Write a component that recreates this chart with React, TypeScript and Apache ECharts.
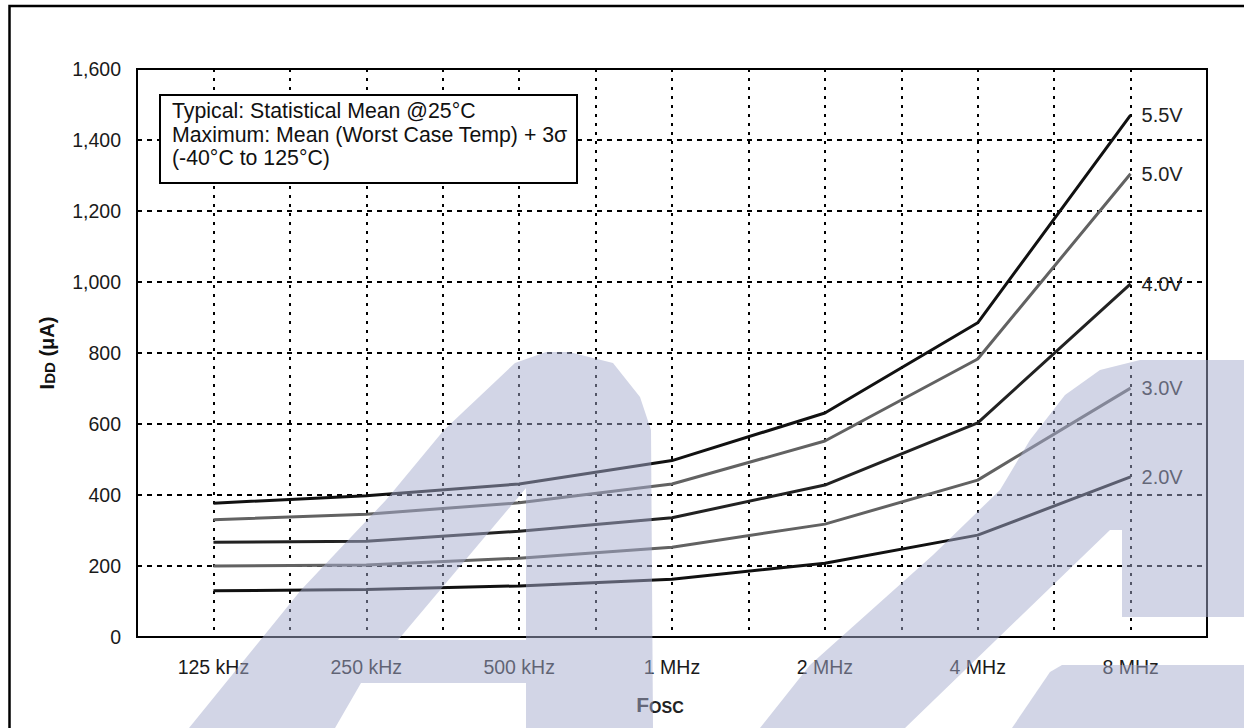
import React, { useEffect, useRef } from "react";
import * as echarts from "echarts";

const categories = ["125 kHz", "250 kHz", "500 kHz", "1 MHz", "2 MHz", "4 MHz", "8 MHz"];
const seriesNames = ["5.5V", "5.0V", "4.0V", "3.0V", "2.0V"];
const v55 = [377, 398, 431, 497, 631, 885, 1470];
const v50 = [330, 346, 378, 431, 552, 783, 1305];
const v40 = [267, 270, 298, 336, 428, 603, 995];
const v30 = [200, 203, 222, 253, 318, 442, 701];
const v20 = [130, 134, 144, 163, 208, 287, 451];
const seriesValues = [v55, v50, v40, v30, v20];
const seriesColors = ["#111111", "#626262", "#222222", "#626262", "#111111"];
const yMin = 0;
const yMax = 1600;
const yStep = 200;
const noteLines = [
  "Typical: Statistical Mean @25°C",
  "Maximum: Mean (Worst Case Temp) + 3σ",
  "(-40°C to 125°C)",
];

const FONT = "'Liberation Sans', Arial, sans-serif";
const WM = "rgba(165,172,205,0.5)";

// watermark shapes (decorative background logo), outer outline + holes (reverse winding)
const wm1Outer = [
  [189, 728], [301, 590], [386, 500], [444, 430], [479, 397], [515, 363], [546, 352], [569, 352],
  [613, 363], [640, 397], [651, 430], [653, 728], [526, 728], [526, 683], [361, 683], [335, 728],
];
const wm1Hole = [[526, 488], [398, 640], [526, 640]];
const wm2Outer = [
  [760, 728], [810, 665], [933, 555], [1000, 490], [1030, 440], [1065, 395], [1100, 370], [1140, 360],
  [1250, 360], [1250, 617], [1122, 617], [1122, 530], [1110, 530], [905, 728],
];
const wm3Outer = [[1012, 728], [1050, 672], [1062, 665], [1250, 665], [1250, 728]];

const toPath = (rings: number[][][]) =>
  rings.map((r) => "M" + r.map((p) => p[0] + "," + p[1]).join("L") + "Z").join(" ");

let registered = false;
function registerShapes() {
  if (registered) return;
  registered = true;
  echarts.graphic.registerShape("wm1", echarts.graphic.extendPath(toPath([wm1Outer, wm1Hole]), {}));
  echarts.graphic.registerShape("wm2", echarts.graphic.extendPath(toPath([wm2Outer]), {}));
  echarts.graphic.registerShape("wm3", echarts.graphic.extendPath(toPath([wm3Outer]), {}));
}

export default function App() {
  const ref = useRef<HTMLDivElement>(null);
  useEffect(() => {
    if (!ref.current) return;
    registerShapes();
    const chart = echarts.init(ref.current, undefined, { renderer: "svg" });
    const series = seriesNames.map((name, si) => ({
      name,
      type: "line",
      symbol: "none",
      data: seriesValues[si].map((v, i) => [2 * i + 1, v]),
      lineStyle: { color: seriesColors[si], width: 3 },
      itemStyle: { color: seriesColors[si] },
      endLabel: {
        show: true,
        formatter: "{a}",
        distance: 11,
        fontSize: 20,
        fontFamily: FONT,
        color: "#222",
      },
      z: 3,
    }));
    const option = {
      animation: false,
      backgroundColor: "#fff",
      grid: {
        left: 137,
        right: 37,
        top: 69,
        bottom: 91,
        show: true,
        borderColor: "#000",
        borderWidth: 2,
      },
      xAxis: {
        type: "value",
        min: 0,
        max: 14,
        interval: 1,
        axisLine: { show: true, onZero: false, lineStyle: { color: "#000", width: 2 } },
        axisTick: { show: false },
        splitLine: { show: true, lineStyle: { color: "#000", width: 2, type: [3, 6] } },
        axisLabel: {
          formatter: (v: number) => (v % 2 === 1 ? categories[(v - 1) / 2] : ""),
          fontSize: 19.5,
          fontFamily: FONT,
          color: "#1a1a1a",
          margin: 20,
        },
        name: "{f|F}{s|OSC}",
        nameLocation: "middle",
        nameGap: 54,
        nameTextStyle: {
          padding: [0, 24, 0, 0],
          rich: {
            f: { fontSize: 21, lineHeight: 24, fontWeight: "bold", fontFamily: FONT, color: "#222", verticalAlign: "bottom" },
            s: { fontSize: 16, lineHeight: 20.6, fontWeight: "bold", fontFamily: FONT, color: "#222", verticalAlign: "bottom" },
          },
        },
      },
      yAxis: {
        type: "value",
        min: yMin,
        max: yMax,
        interval: yStep,
        axisLine: { show: true, lineStyle: { color: "#000", width: 2 } },
        axisTick: { show: false },
        splitLine: { show: true, lineStyle: { color: "#000", width: 2, type: [5, 5] } },
        axisLabel: {
          formatter: (v: number) => v.toLocaleString("en-US"),
          fontSize: 19.5,
          fontFamily: FONT,
          color: "#1a1a1a",
          margin: 16,
        },
        name: "{a|I}{b|DD}{a| (μA)}",
        nameLocation: "middle",
        nameGap: 80,
        nameRotate: 90,
        nameTextStyle: {
          rich: {
            a: { fontSize: 20, lineHeight: 24, fontWeight: "bold", fontFamily: FONT, color: "#111", verticalAlign: "bottom" },
            b: { fontSize: 15, lineHeight: 20.6, fontWeight: "bold", fontFamily: FONT, color: "#111", verticalAlign: "bottom" },
          },
        },
      },
      series,
      graphic: [
        {
          type: "rect",
          shape: { x: 9.5, y: 6, width: 1300, height: 800 },
          style: { fill: "none", stroke: "#000", lineWidth: 2.5 },
          z: 50,
          silent: true,
        },
        {
          type: "group",
          z: 60,
          children: [
            {
              type: "rect",
              shape: { x: 160, y: 95, width: 417, height: 88 },
              style: { fill: "#fff", stroke: "#000", lineWidth: 2 },
              z: 60,
            },
            ...noteLines.map((t, i) => ({
              type: "text",
              x: 172,
              y: 111 + i * 23.5,
              z: 61,
              style: {
                text: t,
                fontSize: 21.3,
                fontFamily: FONT,
                fill: "#111",
                verticalAlign: "middle",
              },
            })),
          ],
        },
        ...["wm1", "wm2", "wm3"].map((t) => ({
          type: t,
          x: 0,
          y: 0,
          style: { fill: WM, stroke: "none" },
          z: 100,
          silent: true,
        })),
      ],
    };
    chart.setOption(option as any);
    return () => chart.dispose();
  }, []);
  return (
    <div
      ref={ref}
      style={{ position: "fixed", left: 0, top: 0, width: 1244, height: 728, background: "#fff" }}
    />
  );
}
